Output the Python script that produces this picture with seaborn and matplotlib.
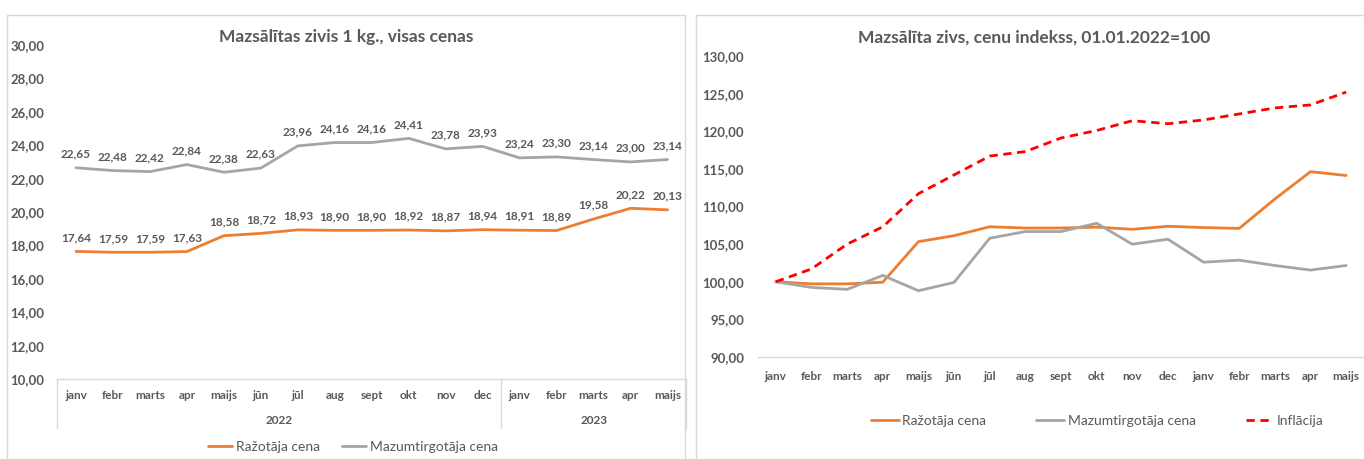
import numpy as np
import pandas as pd
import seaborn as sns
import matplotlib.pyplot as plt
from matplotlib.patches import Rectangle
from matplotlib.lines import Line2D
from matplotlib.ticker import FuncFormatter, MultipleLocator
import matplotlib.transforms as mtransforms

# data
months = ['janv', 'febr', 'marts', 'apr', 'maijs', 'jūn', 'jūl', 'aug', 'sept', 'okt', 'nov', 'dec',
          'janv', 'febr', 'marts', 'apr', 'maijs']
years = ['2022', '2023']
year_spans = [(0, 11), (12, 16)]

producer = [17.64, 17.59, 17.59, 17.63, 18.58, 18.72, 18.93, 18.90, 18.90, 18.92, 18.87, 18.94,
            18.91, 18.89, 19.58, 20.22, 20.13]
retail = [22.65, 22.48, 22.42, 22.84, 22.38, 22.63, 23.96, 24.16, 24.16, 24.41, 23.78, 23.93,
          23.24, 23.30, 23.14, 23.00, 23.14]

producer_idx = [100.00, 99.72, 99.72, 99.94, 105.33, 106.12, 107.31, 107.14, 107.14, 107.26, 106.97, 107.37,
                107.20, 107.09, 111.00, 114.63, 114.12]
retail_idx = [100.00, 99.25, 98.99, 100.84, 98.81, 99.91, 105.78, 106.67, 106.67, 107.77, 104.99, 105.65,
              102.60, 102.87, 102.16, 101.55, 102.16]
inflation = [100.0, 101.7, 105.0, 107.3, 111.7, 114.2, 116.7, 117.3, 119.1, 120.1, 121.4, 121.0,
             121.5, 122.3, 123.1, 123.5, 125.2]

labels = ['Ražotāja cena', 'Mazumtirgotāja cena', 'Inflācija']
c_prod = '#ED7D31'
c_ret = '#A5A5A5'
c_inf = '#FF0000'
txt = '#595959'
grid_c = '#D9D9D9'

sns.set_theme(style='white')
plt.rcParams['font.family'] = ['Lato', 'DejaVu Sans']

W, H = 1364, 459
fig = plt.figure(figsize=(W / 100, H / 100), dpi=100)


def px_axes(x0, x1, ytop, ybot):
    return fig.add_axes([x0 / W, (H - ybot) / H, (x1 - x0) / W, (ybot - ytop) / H])


comma = FuncFormatter(lambda v, p: f'{v:.2f}'.replace('.', ','))
x = np.arange(len(months))

# panel borders
for (x0, x1) in [(7, 685), (696, 1370)]:
    fig.patches.append(Rectangle((x0 / W, -0.1), (x1 - x0) / W, (H - 15) / H + 0.1,
                                 transform=fig.transFigure, fill=False, edgecolor=grid_c, lw=1))

# ---------- left chart ----------
ax1 = px_axes(57.5, 686, 45, 379)
df1 = pd.DataFrame({'x': x, 'prod': producer, 'ret': retail})
sns.lineplot(data=df1, x='x', y='prod', color=c_prod, lw=2, ax=ax1)
sns.lineplot(data=df1, x='x', y='ret', color=c_ret, lw=2, ax=ax1)
for i in x:
    for v in (producer[i], retail[i]):
        ax1.annotate(f'{v:.2f}'.replace('.', ','), (i, v), xytext=(0, 10),
                     textcoords='offset points', ha='center', va='center', fontsize=8.5,
                     fontweight='bold', color=txt)
ax1.set_xlim(-0.5, len(months) - 0.5)
ax1.set_ylim(10, 30)
ax1.yaxis.set_major_locator(MultipleLocator(2))
ax1.yaxis.set_major_formatter(comma)
ax1.set_xticks(x)
ax1.set_xticklabels(months)
ax1.tick_params(axis='x', length=0, pad=8, labelsize=8.5, labelcolor=txt)
ax1.tick_params(axis='y', length=0, pad=34, labelsize=9.5, labelcolor=txt)
for lab in ax1.get_xticklabels() + ax1.get_yticklabels():
    lab.set_fontweight('bold')
for lab in ax1.get_yticklabels():
    lab.set_ha('left')
ax1.set_xlabel('')
ax1.set_ylabel('')
for s in ['top', 'right', 'left']:
    ax1.spines[s].set_visible(False)
ax1.spines['bottom'].set_color(grid_c)
ax1.spines['bottom'].set_linewidth(1)
trans = mtransforms.blended_transform_factory(ax1.transData, ax1.transAxes)
for b in [-0.5, 11.5, 16.5]:
    ax1.add_line(Line2D([b, b], [0, -49 / 334], transform=trans, color=grid_c, lw=1, clip_on=False))
for yr, (a, b) in zip(years, year_spans):
    ax1.text((a + b) / 2, -42 / 334, yr, transform=trans, ha='center', va='center',
             fontsize=8.5, fontweight='bold', color=txt)
ax1.set_title('Mazsālītas zivis 1 kg., visas cenas', fontsize=12.5, fontweight='bold', color=txt, pad=0,
              y=1.01, x=0.46)
ax1.legend(handles=[Line2D([], [], color=c_prod, lw=2), Line2D([], [], color=c_ret, lw=2)],
           labels=labels[:2], loc='center', bbox_to_anchor=(0.47, -68 / 334), ncol=2, frameon=False,
           fontsize=10, labelcolor=txt, handlelength=1.7, handletextpad=0.3, columnspacing=1.6)

# ---------- right chart ----------
ax2 = px_axes(758, 1364, 56, 357)
df2 = pd.DataFrame({'x': x, 'prod': producer_idx, 'ret': retail_idx, 'inf': inflation})
sns.lineplot(data=df2, x='x', y='prod', color=c_prod, lw=2, ax=ax2)
sns.lineplot(data=df2, x='x', y='ret', color=c_ret, lw=2, ax=ax2)
sns.lineplot(data=df2, x='x', y='inf', color=c_inf, lw=2, ax=ax2)
ax2.lines[-1].set_dashes([3, 2])
ax2.set_xlim(-0.5, len(months) - 0.5)
ax2.set_ylim(90, 130)
ax2.yaxis.set_major_locator(MultipleLocator(5))
ax2.yaxis.set_major_formatter(comma)
ax2.set_xticks(x)
ax2.set_xticklabels(months)
ax2.tick_params(axis='x', length=0, pad=10, labelsize=8.5, labelcolor=txt)
ax2.tick_params(axis='y', length=0, pad=10, labelsize=9.5, labelcolor=txt)
for lab in ax2.get_xticklabels() + ax2.get_yticklabels():
    lab.set_fontweight('bold')
ax2.set_xlabel('')
ax2.set_ylabel('')
for s in ['top', 'right', 'left']:
    ax2.spines[s].set_visible(False)
ax2.spines['bottom'].set_color(grid_c)
ax2.spines['bottom'].set_linewidth(1)
ax2.set_title('Mazsālīta zivs, cenu indekss, 01.01.2022=100', fontsize=12.5, fontweight='bold', color=txt,
              pad=0, y=1.045, x=0.455)
ax2.legend(handles=[Line2D([], [], color=c_prod, lw=2), Line2D([], [], color=c_ret, lw=2),
                    Line2D([], [], color=c_inf, lw=2, dashes=[3, 2])],
           labels=labels, loc='center', bbox_to_anchor=(0.56, -64 / 301), ncol=3, frameon=False,
           fontsize=10, labelcolor=txt, handlelength=2.0, handletextpad=0.25, columnspacing=3.6)

fig.savefig('out.png', dpi=100, facecolor='white')
